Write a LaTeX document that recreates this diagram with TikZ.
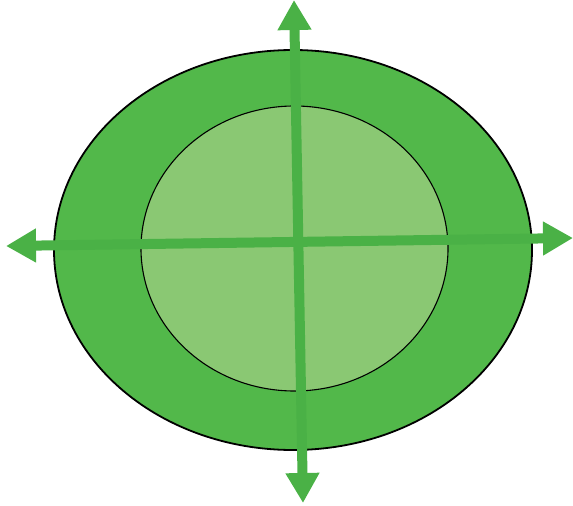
\documentclass[tikz,border=0pt]{standalone}
\usetikzlibrary{arrows.meta}
\definecolor{darkg}{RGB}{82,184,74}
\definecolor{arrowg}{RGB}{74,177,70}
\definecolor{lightg}{RGB}{138,200,115}
\begin{document}
\begin{tikzpicture}[x=1pt,y=-1pt,
  axisarrow/.style={draw=arrowg,line width=10pt,{Triangle[length=30pt,width=32pt,fill=arrowg]}-{Triangle[length=30pt,width=32pt,fill=arrowg]}}]
\useasboundingbox (0,0) rectangle (573,506);
\draw[black,line width=1.8pt,fill=darkg] (293,250) ellipse [x radius=239,y radius=200];
\draw[black,line width=1.1pt,fill=lightg] (294.5,248.5) ellipse [x radius=153.5,y radius=142.5];
\coordinate (top) at (294,0);
\coordinate (bottom) at (303,503);
\coordinate (left) at (6,246);
\coordinate (right) at (573,238);
\draw[axisarrow] (top) -- (bottom);
\draw[axisarrow] (left) -- (right);
\end{tikzpicture}
\end{document}
